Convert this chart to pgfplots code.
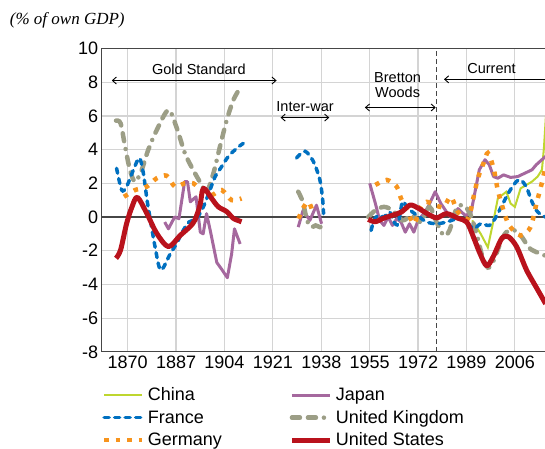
\documentclass[border=0pt]{standalone}
\usepackage{fontspec}
\setmainfont{Liberation Sans}
\newfontfamily\serifit{Liberation Serif}
\usepackage{pgfplots}
\pgfplotsset{compat=1.18}
\usetikzlibrary{arrows.meta}
\definecolor{cChina}{RGB}{190,214,47}
\definecolor{cJapan}{RGB}{165,104,158}
\definecolor{cFrance}{RGB}{0,112,192}
\definecolor{cUK}{RGB}{156,158,134}
\definecolor{cGermany}{RGB}{247,148,29}
\definecolor{cUS}{RGB}{185,18,28}
\definecolor{gridgray}{RGB}{212,212,212}
\definecolor{axisgray}{RGB}{70,70,70}
\pgfplotsset{
  chinast/.style={draw=cChina, line width=2pt},
  japanst/.style={draw=cJapan, line width=3pt, line join=round},
  francest/.style={draw=cFrance, line width=3.5pt, line cap=round, dash pattern=on 5pt off 5.5pt},
  ukst/.style={draw=cUK, line width=4.5pt, line cap=round, dash pattern=on 8pt off 8pt on 8pt off 8pt on 0pt off 8pt},
  germanyst/.style={draw=cGermany, line width=4.5pt, line cap=butt, dash pattern=on 4.5pt off 7pt},
  usst/.style={draw=cUS, line width=5pt, line join=round},
}
\begin{document}
\begin{tikzpicture}
\path[use as bounding box] (-101.7pt,-96.2pt) rectangle (443.3pt,351.8pt);
\clip (-101.7pt,-96.2pt) rectangle (443.3pt,351.8pt);
\node[anchor=west, inner sep=0pt, font=\serifit\itshape\fontsize{17}{20}\selectfont] at (-92pt,331pt) {(\% of own GDP)};
\begin{axis}[
  at={(0pt,0pt)}, anchor=south west, scale only axis,
  width=450pt, height=303.3pt,
  xmin=1860.87, xmax=2018.93, ymin=-8, ymax=10,
  xtick={1870,1887,1904,1921,1938,1955,1972,1989,2006},
  ytick={-8,-6,...,10},
  grid=major, major grid style={draw=gridgray, line width=1.2pt},
  major tick length=0pt,
  axis line style={draw=axisgray, line width=1.3pt},
  tick label style={font=\fontsize{18}{20}\selectfont},
  xticklabel style={yshift=-1pt},
  /pgf/number format/assume math mode=true,
  /pgf/number format/1000 sep={},
  legend image code/.code={\draw[#1] (0pt,0pt) -- (38pt,0pt);},
  legend columns=2,
  legend cell align=left,
  legend style={at={(0,-0.1132)}, anchor=north west, draw=none, fill=none,
    inner sep=0pt, font=\fontsize{18}{20}\selectfont,
    nodes={inner sep=1.5pt},
    row sep=5pt,
    /tikz/every odd column/.append style={column sep=2pt},
    /tikz/every even column/.append style={column sep=66pt}},
]
\addlegendimage{chinast}\addlegendentry{China}
\addlegendimage{japanst}\addlegendentry{Japan}
\addlegendimage{francest}\addlegendentry{France}
\addlegendimage{ukst}\addlegendentry{United Kingdom}
\addlegendimage{germanyst}\addlegendentry{Germany}
\addlegendimage{usst}\addlegendentry{United States}

% zero line and period markers
\draw[axisgray, line width=1.5pt] (axis cs:1850,0) -- (axis cs:2030,0);
\draw[axisgray, line width=1.3pt, dash pattern=on 5pt off 3pt] (axis cs:1978.5,-8) -- (axis cs:1978.5,10);
\draw[black, line width=0.9pt, {Straight Barb[length=4pt,width=7pt]}-{Straight Barb[length=4pt,width=7pt]}] (axis cs:1864.4,8.1) -- (axis cs:1922.3,8.1);
\node[font=\fontsize{14.5}{16}\selectfont] at (axis cs:1895,8.75) {Gold Standard};
\draw[black, line width=0.9pt, {Straight Barb[length=4pt,width=7pt]}-{Straight Barb[length=4pt,width=7pt]}] (axis cs:1923.7,5.9) -- (axis cs:1940.8,5.9);
\node[font=\fontsize{14.5}{16}\selectfont] at (axis cs:1932.3,6.55) {Inter-war};
\draw[black, line width=0.9pt, {Straight Barb[length=4pt,width=7pt]}-{Straight Barb[length=4pt,width=7pt]}] (axis cs:1953.3,6.5) -- (axis cs:1978.2,6.5);
\node[font=\fontsize{14.5}{16}\selectfont, align=center] at (axis cs:1964.8,7.85) {Bretton\\[-1pt]Woods};
\draw[black, line width=0.9pt, {Straight Barb[length=4pt,width=7pt]}-{Straight Barb[length=4pt,width=7pt]}] (axis cs:1981.1,8.17) -- (axis cs:2026,8.17);
\node[font=\fontsize{14.5}{16}\selectfont] at (axis cs:1997.8,8.8) {Current};

% ---------- China
\addplot[chinast, forget plot] coordinates {
(1991,-0.2) (1994,-1.0) (1996.5,-1.8) (1998.5,-0.2) (2000,1.1) (2001.5,1.3) (2003,1.5)
(2004.5,0.8) (2006,0.6) (2008,1.7) (2010,1.9) (2012,2.1) (2014,2.4) (2015.5,2.8) (2016.2,4.1) (2016.9,6.0)};

% ---------- Japan
\addplot[japanst, forget plot] coordinates {
(1883,-0.3) (1884.3,-0.7) (1886.5,0.0) (1888,-0.1) (1890,2.1) (1891,2.1) (1892,0.9) (1894,1.2)
(1895.5,-0.9) (1896.5,-1.0) (1897.7,0.2) (1899,-0.8) (1901.3,-2.7) (1903,-3.1) (1905,-3.6)
(1906.5,-2.2) (1907.5,-0.7) (1909.5,-1.6)};
\addplot[japanst, forget plot] coordinates {
(1929.9,-0.6) (1931.6,0.4) (1934,-0.2) (1936.3,0.7) (1938.1,-0.4)};
\addplot[japanst, forget plot] coordinates {
(1955,2.0) (1957,0.8) (1958.5,-0.2) (1960,-0.5) (1961.5,0.0) (1963,-0.5) (1964.5,-0.1) (1966,-0.3)
(1967.5,-0.9) (1969,-0.4) (1970.5,-0.9) (1972,-0.2) (1974,0.2) (1975.5,0.6) (1978,1.5) (1980,0.8)
(1982,0.3) (1984,-0.1) (1986,0.5) (1988.5,0.1) (1990.5,0.2) (1992,1.5) (1993.5,2.8) (1995.5,3.4)
(1997,3.1) (1998.5,2.4) (2000,2.3) (2002,2.5) (2004.5,2.35) (2007,2.4) (2009.5,2.6) (2012,2.8)
(2013.5,3.1) (2016.8,3.6)};

% ---------- United Kingdom
\addplot[ukst, smooth, forget plot] coordinates {
(1865.9,5.72) (1867.5,5.56) (1869.1,4.17) (1870.8,2.79) (1872.6,2.09) (1874.9,2.79) (1877.2,3.98)
(1880.2,5.16) (1884.3,6.35) (1887.2,5.3) (1890.1,3.78) (1893,2.79) (1896,1.9) (1897.7,1.45)
(1900.1,2.59) (1902.4,4.17) (1904.8,5.76) (1907.1,6.94) (1909.4,7.64)};
\addplot[ukst, smooth, forget plot] coordinates {
(1929.9,1.5) (1931.5,0.9) (1933,-0.2) (1934.5,-0.6) (1936,-0.5) (1937.5,-0.6) (1938.7,-0.55)};
\addplot[ukst, smooth, forget plot] coordinates {
(1954.5,0.0) (1957,0.4) (1960,0.6) (1963,0.4) (1966.5,-0.2) (1970,0.1) (1973,-0.3) (1976,0.6)
(1978.5,-0.3) (1981,-1.1) (1983,-0.8) (1985.5,0.5) (1988,0.7) (1990.5,0.1) (1993,-1.3) (1994.5,-2.3)
(1996.5,-3.0) (1998.5,-2.6) (2001,-1.5) (2003,-0.9) (2006,-0.8) (2008.5,-1.2) (2011.5,-1.9) (2016.8,-2.3)};

% ---------- France
\addplot[francest, smooth, forget plot] coordinates {
(1866.1,2.89) (1867.9,1.6) (1869.6,1.8) (1872,2.79) (1874.1,3.5) (1875.5,2.6) (1876.8,1.0)
(1877.8,0.0) (1879.6,-1.76) (1881.6,-3.15) (1884.9,-2.2) (1887.2,-1.56) (1889.5,-0.8) (1891.5,-0.3)
(1894.2,-0.08) (1896.6,0.61) (1898.9,1.6) (1900.7,2.39) (1903,2.99) (1905.3,3.58) (1908.3,4.08) (1910.6,4.37)};
\addplot[francest, smooth, forget plot] coordinates {
(1929.3,3.5) (1932.3,3.9) (1935.2,3.3) (1937.5,2.2) (1938.5,1.0) (1938.8,0.2)};
\addplot[francest, smooth, forget plot] coordinates {
(1955.5,-0.8) (1956.5,-0.2) (1958,0.1) (1960,0.0) (1962,0.3) (1963.5,-0.3) (1965,-0.4) (1966.5,0.9)
(1968,0.6) (1970,0.3) (1972.5,0.0) (1975,-0.3) (1978.5,-0.4) (1982,-0.3) (1986,-0.1) (1989,-0.3)
(1991.5,-0.7) (1994,-0.4) (1997,-0.5) (1999,-0.1) (2001.5,0.7) (2004,1.5) (2006.5,2.1) (2008,2.2)
(2010,1.8) (2012,0.9) (2014,0.3) (2016.8,0.0)};

% ---------- Germany
\addplot[germanyst, smooth, forget plot] coordinates {
(1868.7,1.2) (1872.6,1.6) (1876.7,1.8) (1880.2,2.3) (1883.7,2.45) (1886.6,1.8) (1890,2.0) (1893,2.0)
(1896.5,1.5) (1899.5,1.3) (1903,1.6) (1906.5,1.0) (1910,1.1)};
\addplot[germanyst, smooth, forget plot] coordinates {
(1930,-0.1) (1931.5,0.5) (1933.5,0.9) (1935,0.3)};
\addplot[germanyst, smooth, forget plot] coordinates {
(1957,1.9) (1961,2.2) (1964.5,1.8) (1966,1.1) (1968,0.5) (1970.5,-0.4) (1973,0.6) (1975,0.9)
(1978,0.7) (1981,0.6) (1983.5,1.2) (1986,0.3) (1989.5,-0.1) (1991.5,1.2) (1993,2.3) (1995,3.2)
(1996.5,3.8) (1998.5,2.9) (2000,1.6) (2002,0.4) (2004,-0.5) (2008,-1.1) (2011.5,-0.6) (2013.7,0.9)
(2015,1.7) (2016.8,3.0)};

% ---------- United States
\addplot[usst, smooth, forget plot] coordinates {
(1865.9,-2.45) (1867.5,-1.96) (1869.6,-0.4) (1871.5,0.6) (1873.4,1.17) (1876.7,0.22) (1880.2,-0.97)
(1884.3,-1.76) (1888.4,-1.1) (1891.9,-0.57) (1893.6,-0.18) (1895.4,0.7) (1896.6,1.7) (1899.5,1.1)
(1901.8,0.61) (1904.8,0.32) (1907.1,-0.08) (1910,-0.28)};
\addplot[usst, smooth, forget plot] coordinates {
(1954.5,-0.14) (1956.9,-0.28) (1959.8,-0.08) (1963.3,0.12) (1966.2,0.3) (1969.2,0.71) (1972.1,0.52)
(1975,0.22) (1978.5,-0.05) (1982,0.2) (1986.1,-0.08) (1989.1,-0.3) (1991.4,-1.17) (1993.7,-2.15)
(1996.1,-2.9) (1998.4,-2.35) (2001.4,-1.27) (2003.7,-1.17) (2006.6,-1.76) (2010.1,-3.15)
(2013.7,-4.23) (2016.8,-5.15)};
\end{axis}
\end{tikzpicture}
\end{document}
